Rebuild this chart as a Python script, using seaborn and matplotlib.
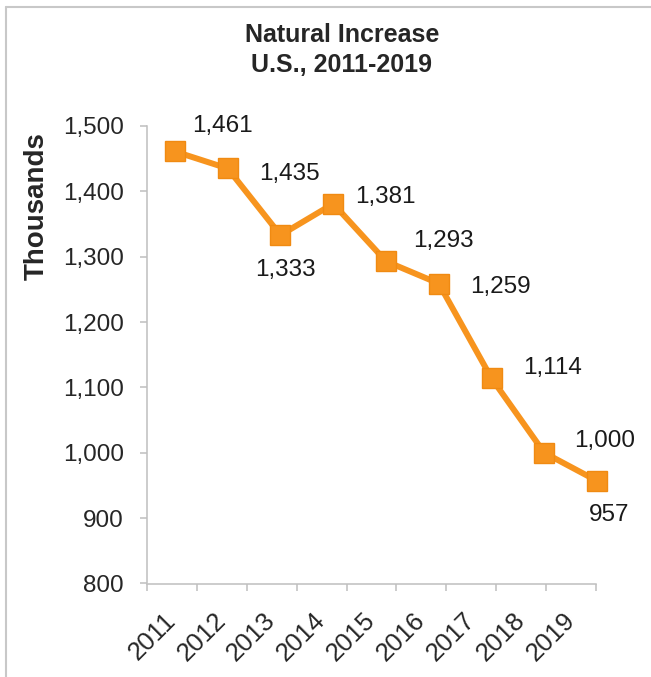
import matplotlib
matplotlib.use("Agg")
import numpy as np
import pandas as pd
import matplotlib.pyplot as plt
import seaborn as sns
from matplotlib.lines import Line2D
from matplotlib.ticker import FuncFormatter
from matplotlib.transforms import ScaledTranslation

years = ["2011", "2012", "2013", "2014", "2015", "2016", "2017", "2018", "2019"]
natural_increase = [1461, 1435, 1333, 1381, 1293, 1259, 1114, 1000, 957]

# label offsets from each marker, in pixels (x right, y up)
label_offsets = [(47, 25), (62, -6), (5, -35), (52, 7), (57, 20),
                 (62, -3), (61, 10), (60, 12), (12, -34)]

ORANGE = "#F7941E"
GREY = "#BFBFBF"

sns.set_theme(style="white")
plt.rcParams["font.family"] = ["Liberation Sans", "DejaVu Sans"]

df = pd.DataFrame({"pos": np.arange(len(years)), "value": natural_increase})

fig = plt.figure(figsize=(6.51, 6.77), dpi=100)
# frame around the chart (only left and top edges are visible)
fx, fy = 6 / 651, 1 - 7 / 677
fig.add_artist(Line2D([fx, fx], [0, fy], transform=fig.transFigure,
                      color="#C8C8C8", linewidth=1.5))
fig.add_artist(Line2D([fx, 1], [fy, fy], transform=fig.transFigure,
                      color="#C8C8C8", linewidth=1.5))

ax = fig.add_axes([147 / 651, 1 - 583.5 / 677, 449 / 651, 457.5 / 677])

# category axis
ax.set_xlim(-0.5, len(years) - 0.5)
ax.set_xticks(np.arange(len(years)))
ax.set_xticklabels(years, rotation=45, ha="right", va="center",
                   rotation_mode="anchor", fontsize=18.5)
shift = ScaledTranslation(4 / 100, 0, fig.dpi_scale_trans)
for lbl in ax.get_xticklabels():
    lbl.set_transform(lbl.get_transform() + shift)
ax.set_xticks(np.arange(-0.5, len(years)), minor=True)
ax.tick_params(axis="x", which="major", length=0, pad=24)
ax.tick_params(axis="x", which="minor", length=5, width=1.1, color=GREY,
               direction="out", bottom=True)

ax.set_ylim(800, 1500)
ax.set_yticks(np.arange(800, 1501, 100))
ax.yaxis.set_major_formatter(FuncFormatter(lambda v, p: f"{v:,.0f}"))
ax.tick_params(axis="y", length=5, width=1.1, color=GREY, direction="out",
               left=True, pad=11.5, labelsize=17.5)
for side in ["top", "right"]:
    ax.spines[side].set_visible(False)
for side in ["left", "bottom"]:
    ax.spines[side].set_color(GREY)
    ax.spines[side].set_linewidth(1.1)

ax.set_xlabel("")
ax.set_ylabel("Thousands", fontsize=20, fontweight="bold")
ax.yaxis.label.set_va("center")
ax.yaxis.set_label_coords((37 - 147) / 449, (583.5 - 206) / 457.5)

# line on its own x scale
lx = ax.twiny()
lx.set_xlim(-0.53, 7.98)
sns.lineplot(data=df, x="pos", y="value", ax=lx, color=ORANGE, linewidth=4.3,
             marker="s", markersize=14, markerfacecolor=ORANGE,
             markeredgecolor="#F08A12", markeredgewidth=1, clip_on=False)
lx.set_axis_off()

for i, v in enumerate(natural_increase):
    dx, dy = label_offsets[i]
    lx.annotate(f"{v:,}", (i, v), xytext=(dx, dy), textcoords="offset pixels",
                ha="center", va="center", fontsize=17.5, color="#1a1a1a",
                annotation_clip=False)

fig.suptitle("Natural Increase\nU.S., 2011-2019", x=342 / 651, y=1 - 50 / 677,
             va="center", fontsize=18, fontweight="bold", linespacing=1.35)

fig.savefig("out.png", dpi=100)
